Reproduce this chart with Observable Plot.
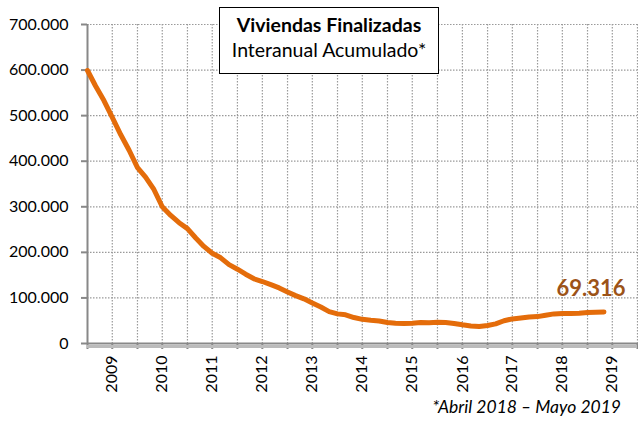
<!DOCTYPE html>
<html>
<head>
<meta charset="utf-8">
<script src="https://cdn.jsdelivr.net/npm/d3@7"></script>
<script src="https://cdn.jsdelivr.net/npm/@observablehq/plot@0.6"></script>
<style>
  html, body { margin: 0; padding: 0; background: #fff; }
  #wrap { position: relative; width: 638px; height: 421px; font-family: Lato, sans-serif; }
  #title { position: absolute; left: 219px; top: 7px; width: 218px; height: 61px; border: 1px solid #000; background: #fff;
           text-align: center; font-size: 19.5px; line-height: 25px; padding-top: 4px; box-sizing: content-box; color: #000; white-space: nowrap; }
  #title b { font-weight: 700; }
  #note { position: absolute; right: 17px; top: 396px; font-style: italic; font-size: 17.5px; color: #000; white-space: nowrap; }
</style>
</head>
<body>
<div id="wrap">
  <div id="chart"></div>
  <div id="title"><b>Viviendas Finalizadas</b><br>Interanual Acumulado*</div>
  <div id="note">*Abril 2018 – Mayo 2019</div>
</div>
<script>
// ---- data ----
const months = [
  "2009-01","2009-03","2009-05","2009-07","2009-09","2009-11",
  "2010-01","2010-03","2010-05","2010-07","2010-09","2010-11",
  "2011-01","2011-03","2011-05","2011-07","2011-09","2011-11",
  "2012-01","2012-03","2012-05","2012-07","2012-09","2012-11",
  "2013-01","2013-03","2013-05","2013-07","2013-09","2013-11",
  "2014-01","2014-03","2014-05","2014-07","2014-09","2014-11",
  "2015-01","2015-03","2015-05","2015-07","2015-09","2015-11",
  "2016-01","2016-03","2016-05","2016-07","2016-09","2016-11",
  "2017-01","2017-03","2017-05","2017-07","2017-09","2017-11",
  "2018-01","2018-03","2018-05","2018-07","2018-09","2018-11",
  "2019-01","2019-03","2019-05"
];
const viviendas = [
  599000,565000,533000,496000,458000,424000,
  386000,365000,338000,300000,281000,265000,
  252000,232000,213000,198000,188000,173000,
  163000,152000,142000,136000,129000,122000,
  113000,105000,98000,89000,80000,70000,
  65000,63000,57000,53000,51000,49500,
  46000,44500,44000,44500,46000,45500,
  46500,46000,44000,41000,38500,37500,
  39500,43000,50000,54000,56000,58000,
  59000,62000,65000,66000,66000,66500,
  68000,68500,69316
];
const years = [2009,2010,2011,2012,2013,2014,2015,2016,2017,2018,2019];
const yTicks = [0,100000,200000,300000,400000,500000,600000,700000];
const lastLabel = "69.316";

// ---- build ----
const parse = d3.utcParse("%Y-%m");
const data = months.map((m, i) => ({date: parse(m), value: viviendas[i]}));
const xStart = new Date(Date.UTC(years[0], 0, 1));
const xEnd = new Date(Date.UTC(years[years.length - 1] + 1, 0, 1));
const halfYears = [];
for (const y of years) { halfYears.push(new Date(Date.UTC(y, 0, 1)), new Date(Date.UTC(y, 6, 1))); }
halfYears.push(xEnd);
const locale = d3.formatLocale({decimal: ",", thousands: ".", grouping: [3], currency: ["", "€"]});
const fmt = locale.format(",d");

const orange = "#E46C0A";
const gridStyle = {stroke: "#9a9a9a", strokeOpacity: 1, strokeDasharray: "1.5,1.5", strokeWidth: 1.2};

const chart = Plot.plot({
  width: 638, height: 421,
  marginLeft: 87, marginRight: 1, marginTop: 24, marginBottom: 78,
  style: {fontFamily: "Lato, sans-serif", fontSize: "16px", color: "#000", background: "transparent", overflow: "visible"},
  x: {type: "utc", domain: [xStart, xEnd]},
  y: {domain: [0, 700000]},
  marks: [
    Plot.gridX(halfYears.slice(1), gridStyle),
    Plot.gridY(yTicks.slice(1), gridStyle),
    Plot.axisY({ticks: yTicks, tickFormat: fmt, tickSize: 6, tickPadding: 13, stroke: "#888", strokeWidth: 2, label: null, fontSize: 16}),
    Plot.axisX({ticks: halfYears, tickFormat: d => d.getUTCMonth() === 6 ? String(d.getUTCFullYear()) : "",
                tickRotate: -90, tickSize: 6, tickPadding: 6, stroke: "#888", strokeWidth: 2, label: null, fontSize: 16}),
    Plot.ruleY([0], {stroke: "#bbb", strokeWidth: 3, dy: 3, ariaLabel: "axisshadow"}),
    Plot.ruleX([xStart], {stroke: "#888", strokeWidth: 2}),
    Plot.ruleY([0], {stroke: "#888", strokeWidth: 2}),
    Plot.line(data, {x: "date", y: "value", stroke: "#888", strokeOpacity: 0.6, strokeWidth: 6, dx: 3, dy: 4, ariaLabel: "shadow"}),
    Plot.line(data, {x: "date", y: "value", stroke: orange, strokeWidth: 5, strokeLinejoin: "round", strokeLinecap: "round"}),
    Plot.text(data.slice(-1), {x: "date", y: "value", text: () => lastLabel, dx: -13, dy: -23,
      fill: "#9C5318", fontWeight: "bold", fontSize: 22, textAnchor: "middle"})
  ]
});
document.getElementById("chart").appendChild(chart);
const sh = chart.querySelector('g[aria-label="shadow"]');
if (sh) sh.style.filter = "blur(2.5px)";
const ash = chart.querySelector('g[aria-label="axisshadow"]');
if (ash) ash.style.filter = "blur(2px)";
</script>
</body>
</html>
